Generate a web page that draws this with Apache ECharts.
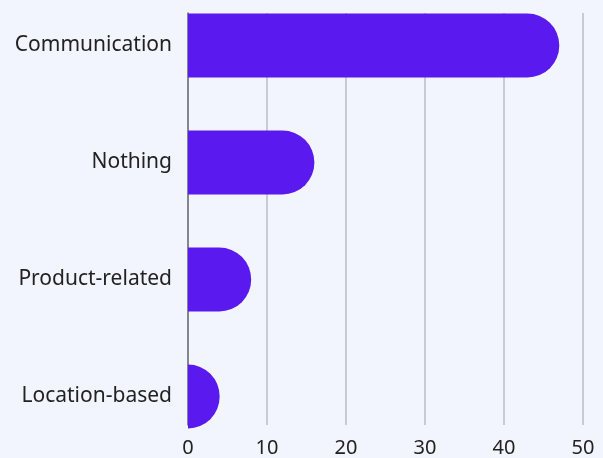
<!DOCTYPE html>
<html>
<head>
<meta charset="utf-8">
<script src="https://cdn.jsdelivr.net/npm/echarts@6/dist/echarts.min.js"></script>
<style>
  html, body { margin: 0; padding: 0; background: #f2f5fd; overflow: hidden; }
  /* shifted up so the top band can start above the page edge */
  #chart { position: absolute; left: 0; top: -13px; width: 603px; height: 471px; }
</style>
</head>
<body>
<div id="chart"></div>
<script>
var categories = ['Communication', 'Nothing', 'Product-related', 'Location-based'];
var values = [47, 16, 8, 4];
var xTicks = [0, 10, 20, 30, 40, 50];

var chart = echarts.init(document.getElementById('chart'));
var font = 'Noto Sans';

chart.setOption({
    backgroundColor: '#f2f5fd',
    animation: false,
    // grid 0 holds the bars, grid 1 draws the axis and grid lines
    grid: [
        { left: 188, right: 20, top: 0, bottom: 3 },
        { left: 188, right: 20, top: 26, bottom: 30 }
    ],
    xAxis: [
        { gridIndex: 0, type: 'value', min: xTicks[0], max: xTicks[xTicks.length - 1], interval: 10, show: false },
        {
            gridIndex: 1, type: 'value', min: xTicks[0], max: xTicks[xTicks.length - 1], interval: 10,
            axisLine: { show: false }, axisTick: { show: false },
            axisLabel: { color: '#222', fontFamily: font, fontSize: 20, margin: 13 },
            splitLine: { show: true, lineStyle: { color: '#b8bcc8', width: 1.5 } }
        }
    ],
    yAxis: [
        {
            gridIndex: 0, type: 'category', data: categories, inverse: true,
            axisLine: { show: false }, axisTick: { show: false },
            axisLabel: { color: '#222', fontFamily: font, fontSize: 21, margin: 16 }
        },
        {
            gridIndex: 1, type: 'category', data: categories,
            axisLine: { show: true, lineStyle: { color: '#6e6e78', width: 1.5 } },
            axisTick: { show: false }, axisLabel: { show: false }, splitLine: { show: false }
        }
    ],
    series: [{
        type: 'bar',
        xAxisIndex: 0,
        yAxisIndex: 0,
        data: values,
        barWidth: 64,
        z: 5,
        itemStyle: { color: '#5a19ee', borderRadius: [0, 32, 32, 0] }
    }]
});
</script>
</body>
</html>
